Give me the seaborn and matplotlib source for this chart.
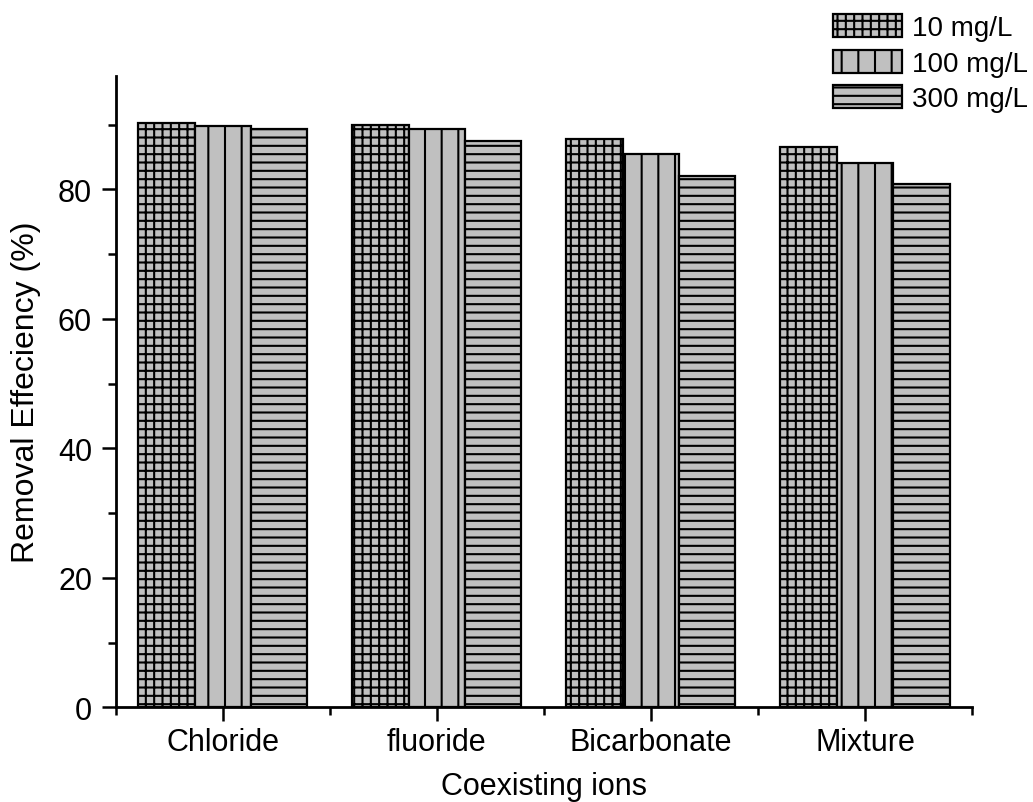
import matplotlib
matplotlib.use("Agg")
import matplotlib.pyplot as plt
import seaborn as sns
import pandas as pd
from matplotlib.ticker import MultipleLocator, FixedLocator

# values
ions = ["Chloride", "fluoride", "Bicarbonate", "Mixture"]
conc_labels = ["10 mg/L", "100 mg/L", "300 mg/L"]
eff_10 = [90.2, 89.9, 87.8, 86.6]
eff_100 = [89.8, 89.3, 85.4, 84.1]
eff_300 = [89.3, 87.4, 82.0, 80.9]

rows = []
for lab, vals in zip(conc_labels, [eff_10, eff_100, eff_300]):
    for ion, v in zip(ions, vals):
        rows.append({"ion": ion, "conc": lab, "eff": v})
df = pd.DataFrame(rows)

sns.set_style("ticks")
plt.rcParams["font.family"] = ["Liberation Sans", "DejaVu Sans"]
plt.rcParams["hatch.linewidth"] = 1.5
plt.rcParams["hatch.color"] = "black"
plt.rcParams["text.color"] = "black"
plt.rcParams["axes.labelcolor"] = "black"
plt.rcParams["xtick.color"] = "black"
plt.rcParams["ytick.color"] = "black"
plt.rcParams["axes.edgecolor"] = "black"

fig = plt.figure(figsize=(10.33, 8.03), dpi=100)
ax = fig.add_axes([0.112, 0.118, 0.829, 0.786])

sns.barplot(data=df, x="ion", y="eff", hue="conc", order=ions,
            hue_order=conc_labels, palette=["#c0c0c0"] * 3,
            width=0.79, edgecolor="black", linewidth=1.6,
            errorbar=None, legend=False, ax=ax, saturation=1)

hatches = ["++", "|", "--"]
for cont, h in zip(ax.containers, hatches):
    for bar in cont:
        bar.set_hatch(h)

ax.set_xlim(-0.5, 3.5)
ax.set_ylim(0, 97.5)
ax.yaxis.set_major_locator(MultipleLocator(20))
ax.yaxis.set_minor_locator(MultipleLocator(10))
ax.xaxis.set_minor_locator(FixedLocator([-0.5, 0.5, 1.5, 2.5, 3.5]))
ax.tick_params(axis="both", which="major", length=10, width=1.8, labelsize=22, direction="out")
ax.tick_params(axis="both", which="minor", length=6, width=1.8, direction="out")
ax.tick_params(axis="x", pad=4)
ax.tick_params(axis="y", pad=7)
for s in ["left", "bottom"]:
    ax.spines[s].set_linewidth(2)
sns.despine(ax=ax)

ax.set_xlabel("Coexisting ions", fontsize=22, va="baseline")
ax.xaxis.set_label_coords(0.5, -0.138)
ax.set_ylabel("Removal Effeciency (%)", fontsize=23, labelpad=12)

fig.legend(ax.containers, conc_labels, loc="upper right",
           bbox_to_anchor=(1.01, 1.0), frameon=False, fontsize=20,
           handlelength=2.5, handleheight=0.9, labelspacing=0.3,
           handletextpad=0.35, borderaxespad=0.15)

fig.savefig("out.png", dpi=100)
